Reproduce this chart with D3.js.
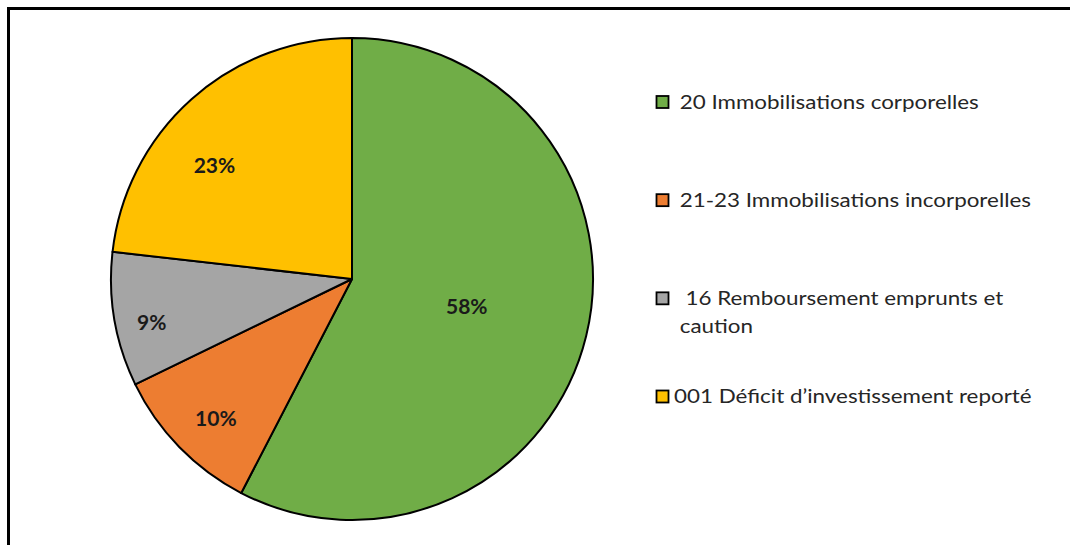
<!DOCTYPE html>
<html>
<head>
<meta charset="utf-8">
<script src="https://cdn.jsdelivr.net/npm/d3@7"></script>
<style>
  html, body { margin: 0; padding: 0; background: #fff; }
  svg { display: block; }
  text { white-space: pre; }
</style>
</head>
<body>
<svg id="chart" width="1070" height="545"></svg>
<script>
// ---- data ----
const categories = [
  "20 Immobilisations corporelles",
  "21-23 Immobilisations incorporelles",
  "16 Remboursement emprunts et caution",
  "001 Déficit d\u2019investissement reporté"
];
const legendLines = [
  [" 20 Immobilisations corporelles"],
  [" 21-23 Immobilisations incorporelles"],
  ["  16 Remboursement emprunts et", " caution"],
  ["001 Déficit d\u2019investissement reporté"]
];
const values = [57.6, 10.2, 9.0, 23.2];   // percentages
const colors = ["#70AD47", "#ED7D31", "#A5A5A5", "#FFC000"];

// ---- layout (style) ----
const W = 1070, H = 545;
const cx = 352, cy = 279, R = 241;
const labelRadius = [0.49, 0.81, 0.85, 0.74];
const labelAngleShift = [0, -1.5, -2.5, -8.7]; // degrees

const svg = d3.select("#chart");

// frame (continues beyond the right and bottom edges)
svg.append("rect")
  .attr("x", 8.5).attr("y", 8.5)
  .attr("width", W + 20).attr("height", H + 20)
  .attr("fill", "#fff").attr("stroke", "#000").attr("stroke-width", 3);

const pie = d3.pie().sort(null).value(d => d).startAngle(0).endAngle(2 * Math.PI);
const arcs = pie(values);
const arc = d3.arc().innerRadius(0).outerRadius(R);

const g = svg.append("g").attr("transform", `translate(${cx},${cy})`);
g.selectAll("path.slice")
  .data(arcs)
  .join("path")
  .attr("class", "slice")
  .attr("d", arc)
  .attr("fill", (d, i) => colors[i])
  .attr("stroke", "#000")
  .attr("stroke-width", 2)
  .attr("stroke-linejoin", "round");

g.selectAll("text.pct")
  .data(arcs)
  .join("text")
  .attr("class", "pct")
  .attr("transform", (d, i) => {
    const a = (d.startAngle + d.endAngle) / 2 + labelAngleShift[i] * Math.PI / 180;
    const r = R * labelRadius[i];
    return `translate(${Math.sin(a) * r},${-Math.cos(a) * r})`;
  })
  .attr("text-anchor", "middle")
  .attr("dy", "0.36em")
  .attr("font-family", "Lato, 'Open Sans', sans-serif")
  .attr("font-weight", "bold")
  .attr("font-size", 21)
  .attr("fill", "#1a1a1a")
  .text(d => Math.round(d.data) + "%");

// legend
const ly = d3.scalePoint().domain(d3.range(categories.length)).range([101.5, 396]);
const lg = svg.append("g");
const rows = lg.selectAll("g.row")
  .data(categories)
  .join("g")
  .attr("class", "row")
  .attr("transform", (d, i) => `translate(656,${ly(i)})`);

rows.append("rect")
  .attr("x", 0.5).attr("y", -5.5)
  .attr("width", 12).attr("height", 12)
  .attr("fill", (d, i) => colors[i])
  .attr("stroke", "#000").attr("stroke-width", 1.8);

rows.each(function (d, i) {
  const t = d3.select(this).append("text")
    .attr("transform", "translate(18,0) scale(1.12,1)")
    .attr("font-family", "Lato, 'Open Sans', sans-serif")
    .attr("font-size", 20)
    .attr("fill", "#262626");
  legendLines[i].forEach((line, k) => {
    t.append("tspan")
      .attr("x", 0)
      .attr("dy", k === 0 ? "0.36em" : "1.4em")
      .text(line);
  });
});
</script>
</body>
</html>
